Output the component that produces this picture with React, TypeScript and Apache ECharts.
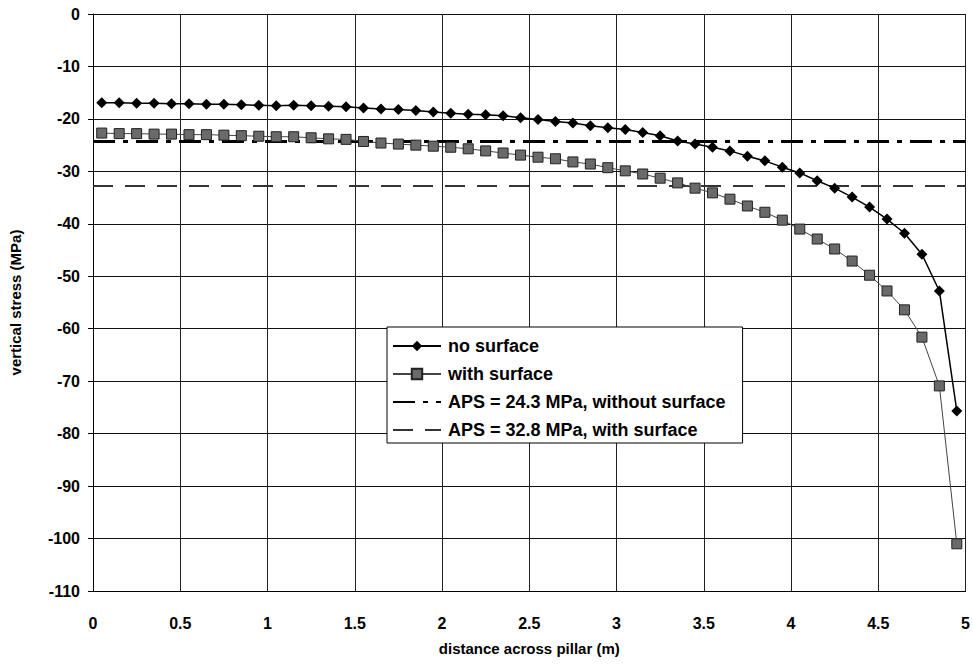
import React, { useEffect, useRef } from "react";
import * as echarts from "echarts";

const distances: number[] = [
  0.05, 0.15, 0.25, 0.35, 0.45, 0.55, 0.65, 0.75, 0.85, 0.95,
  1.05, 1.15, 1.25, 1.35, 1.45, 1.55, 1.65, 1.75, 1.85, 1.95,
  2.05, 2.15, 2.25, 2.35, 2.45, 2.55, 2.65, 2.75, 2.85, 2.95,
  3.05, 3.15, 3.25, 3.35, 3.45, 3.55, 3.65, 3.75, 3.85, 3.95,
  4.05, 4.15, 4.25, 4.35, 4.45, 4.55, 4.65, 4.75, 4.85, 4.95,
];

const noSurface: number[] = [
  -16.9, -16.9, -17.0, -17.0, -17.1, -17.1, -17.2, -17.2, -17.3, -17.4,
  -17.5, -17.4, -17.5, -17.6, -17.7, -17.9, -18.1, -18.2, -18.4, -18.7,
  -18.9, -19.1, -19.2, -19.4, -19.8, -20.1, -20.5, -20.8, -21.3, -21.7,
  -22.0, -22.6, -23.2, -24.2, -24.8, -25.4, -26.1, -27.1, -28.0, -29.2,
  -30.3, -31.8, -33.2, -34.9, -36.8, -39.1, -41.8, -45.8, -52.8, -75.7,
];

const withSurface: number[] = [
  -22.7, -22.8, -22.8, -22.9, -22.9, -23.0, -23.0, -23.1, -23.2, -23.3,
  -23.4, -23.4, -23.6, -23.8, -23.9, -24.3, -24.6, -24.8, -25.0, -25.2,
  -25.4, -25.7, -26.1, -26.5, -26.9, -27.3, -27.6, -28.2, -28.6, -29.3,
  -29.9, -30.5, -31.3, -32.2, -33.2, -34.1, -35.3, -36.6, -37.8, -39.3,
  -41.0, -42.9, -44.8, -47.1, -49.8, -52.8, -56.4, -61.6, -70.9, -101.0,
];

const apsWithout = -24.3;
const apsWith = -32.8;
const apsRange: number[] = [0, 5];

const seriesNames: string[] = [
  "no surface",
  "with surface",
  "APS = 24.3 MPa, without surface",
  "APS = 32.8 MPa, with surface",
];

const FONT = "'Liberation Sans', Arial, sans-serif";

export default function App() {
  const ref = useRef<HTMLDivElement>(null);

  useEffect(() => {
    document.body.style.margin = "0";
    if (!ref.current) return;
    const chart = echarts.init(ref.current, undefined, { renderer: "svg" });
    const pair = (xs: number[], ys: number[]) => xs.map((x, i) => [x, ys[i]]);
    chart.setOption({
      animation: false,
      backgroundColor: "#ffffff",
      textStyle: { fontFamily: FONT },
      grid: { left: 90, right: 6, top: 14, bottom: 80, containLabel: false },
      legend: {
        show: true,
        orient: "vertical",
        left: 387,
        top: 327,
        data: [
          { name: seriesNames[0] },
          { name: seriesNames[1] },
          { name: seriesNames[2], itemStyle: { opacity: 0 } },
          { name: seriesNames[3], itemStyle: { opacity: 0 } },
        ],
        itemWidth: 48,
        itemHeight: 13,
        itemGap: 10,
        padding: [10, 17, 4, 5],
        backgroundColor: "#ffffff",
        borderColor: "#000000",
        borderWidth: 1,
        borderRadius: 0,
        textStyle: { fontFamily: FONT, fontWeight: "bold", fontSize: 18, color: "#000", padding: [0, 0, 0, 2] },
      },
      xAxis: {
        type: "value",
        min: 0,
        max: 5,
        interval: 0.5,
        name: "distance across pillar (m)",
        nameLocation: "middle",
        nameGap: 50,
        nameTextStyle: { fontFamily: FONT, fontWeight: "bold", fontSize: 15, color: "#000" },
        axisLine: { show: true, onZero: false, lineStyle: { color: "#000", width: 1 } },
        axisTick: { show: false },
        axisLabel: { fontFamily: FONT, fontWeight: "bold", fontSize: 16, color: "#000", margin: 24 },
        splitLine: { show: true, lineStyle: { color: "#222", width: 1 } },
      },
      yAxis: {
        type: "value",
        min: -110,
        max: 0,
        interval: 10,
        name: "vertical stress (MPa)",
        nameLocation: "middle",
        nameGap: 70,
        nameRotate: 90,
        nameTextStyle: { fontFamily: FONT, fontWeight: "bold", fontSize: 15, color: "#000" },
        axisLine: { show: true, lineStyle: { color: "#000", width: 1 } },
        axisTick: { show: true, inside: false, length: 5, lineStyle: { color: "#000" } },
        axisLabel: { fontFamily: FONT, fontWeight: "bold", fontSize: 16, color: "#000", margin: 13 },
        splitLine: { show: true, lineStyle: { color: "#111", width: 1 } },
      },
      series: [
        {
          name: seriesNames[2],
          type: "line",
          data: pair(apsRange, [apsWithout, apsWithout]),
          symbol: "circle",
          showSymbol: false,
          lineStyle: { color: "#000", width: 3, type: [22, 8, 5, 8] },
          itemStyle: { color: "#000" },
          z: 2,
        },
        {
          name: seriesNames[3],
          type: "line",
          data: pair(apsRange, [apsWith, apsWith]),
          symbol: "circle",
          showSymbol: false,
          lineStyle: { color: "#333", width: 2, type: [20, 12] },
          itemStyle: { color: "#333" },
          z: 2,
        },
        {
          name: seriesNames[0],
          type: "line",
          data: pair(distances, noSurface),
          symbol: "diamond",
          symbolSize: 11,
          lineStyle: { color: "#000", width: 1.5 },
          itemStyle: { color: "#000" },
          z: 4,
        },
        {
          name: seriesNames[1],
          type: "line",
          data: pair(distances, withSurface),
          symbol: "rect",
          symbolSize: 10,
          lineStyle: { color: "#444", width: 1 },
          itemStyle: { color: "#6a6a6a", borderColor: "#222", borderWidth: 1 },
          z: 3,
        },
      ],
    });
    return () => chart.dispose();
  }, []);

  return <div ref={ref} style={{ width: 973, height: 671 }} />;
}
